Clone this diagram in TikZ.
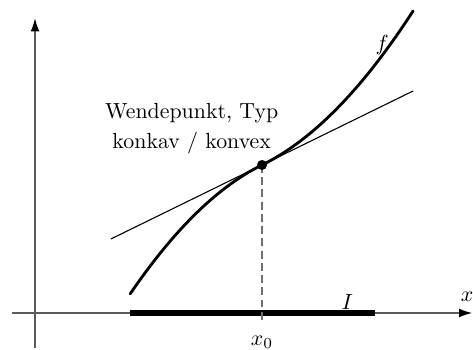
\documentclass[tikz,border=0pt]{standalone}
\usepackage{amsmath,amssymb}
\usetikzlibrary{arrows.meta,positioning,calc}
\definecolor{cInk}{HTML}{000000}
\definecolor{cAxis}{HTML}{5A5A5A}
\definecolor{cDash}{HTML}{707070}

\begin{document}
\begin{tikzpicture}[
  axis/.style={cAxis, line width=0.6pt},
  axarrow/.style={axis, -{Latex[length=6pt,width=4pt,cInk]}},
  graph/.style={cInk, line width=1.3pt, line cap=round},
  tang/.style={cInk, line width=0.5pt},
  interval/.style={cInk, line width=2.4pt},
  guide/.style={cDash, line width=0.6pt, dash pattern=on 3.6pt off 2pt},
  lab/.style={inner sep=1pt, text=cInk},
]
\useasboundingbox (-0.563,-0.579) rectangle (7.043,5.033);
% ---------------------------------------------------------------- axes
\coordinate (O) at (0,0);
\coordinate (xs) at (-0.37,0);
\coordinate (xe) at (7.03,0);
\coordinate (ys) at (0,-0.56);
\coordinate (ye) at (0,4.74);
\draw[axarrow] (xs) -- (xe);
\draw[axarrow] (ys) -- (ye);
\node[lab] (xlab) at (6.95,0.26) {$x$};
% ---------------------------------------------------------------- interval
\coordinate (ia) at (1.53,0);
\coordinate (ib) at (5.47,0);
\draw[interval] (ia) -- (ib);
\node[lab] (ilab) at (5.02,0.18) {$I$};
% ---------------------------------------------------------------- inflection point
\coordinate (W) at (3.65,2.38);
\coordinate (xfoot) at (3.65,-0.16);
\draw[guide] (W) -- (xfoot);
\node[lab] (x0lab) at (3.65,-0.47) {$x_0$};
% tangent
\coordinate (ta) at ($(W)+(-2.43,-1.19)$);
\coordinate (tb) at ($(W)+(2.43,1.19)$);
\draw[tang] (ta) -- (tb);
% graph
\begin{scope}[shift={(W)}]
  \draw[graph] plot[domain=-2.12:2.43, samples=90, smooth]
    (\x, {0.49*\x + (\x<0 ? 0.23 : 0.218)*\x*abs(\x)});
\end{scope}
\node[lab] (flab) at (5.58,4.31) {$f$};
\fill[cInk] (W) circle (2.3pt);
% ---------------------------------------------------------------- label
\node[lab, align=center] (wp) at (2.52,2.96)
  {Wendepunkt, Typ\\[1.6pt] konkav / konvex};
\end{tikzpicture}
\end{document}
